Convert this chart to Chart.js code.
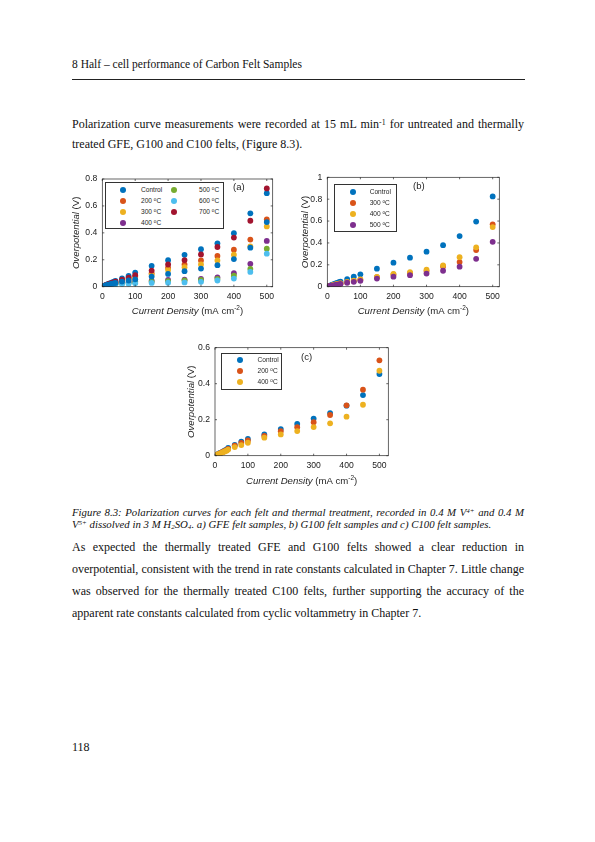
<!DOCTYPE html>
<html>
<head>
<meta charset="utf-8">
<script src="https://cdn.jsdelivr.net/npm/chart.js@4.4.1/dist/chart.umd.min.js"></script>
<style>
  html, body { margin: 0; padding: 0; background: #fff; }
  #page { position: relative; width: 595px; height: 842px; overflow: hidden; font-family: "Liberation Serif", "Times New Roman", serif; color: #111; }
  .abs { position: absolute; }
  .line { position: absolute; left: 72px; width: 452px; white-space: nowrap; }
  .just { text-align: justify; text-align-last: justify; }
  .body { font-size: 12px; }
  .cap { font-size: 10.8px; font-style: italic; line-height: 12px; }
  sup { font-size: 0.65em; line-height: 0; vertical-align: 0.45em; }
  sub { font-size: 0.65em; line-height: 0; vertical-align: -0.2em; }
  .legend { position: absolute; background: #fff; border: 0.8px solid #333; box-sizing: border-box; font-family: "Liberation Sans", Arial, sans-serif; font-size: 6.6px; color: #262626; }
  .legend .dot { position: absolute; width: 6px; height: 6px; border-radius: 50%; }
  .legend .txt { position: absolute; line-height: 8px; white-space: nowrap; }
  .legend sup { font-size: 0.7em; vertical-align: 0.5em; }
  .plabel { position: absolute; font-family: "Liberation Sans", Arial, sans-serif; font-size: 9.5px; color: #262626; line-height: 10px; }
</style>
</head>
<body>
<div id="page">
  <div class="abs" style="left:72px; top:57px; font-size:11.5px; line-height:14px;">8 Half – cell performance of Carbon Felt Samples</div>
  <div class="abs" style="left:72px; top:79px; width:453px; border-top:0.8px solid #222;"></div>

  <div class="line body just" style="top:114px; line-height:20px;">Polarization curve measurements were recorded at 15 mL min<sup>-1</sup> for untreated and thermally</div>
  <div class="line body" style="top:134px; line-height:20px;">treated GFE, G100 and C100 felts, (Figure 8.3).</div>

  <div class="abs" style="left:58px; top:168px;"><canvas id="chartA" width="236" height="152"></canvas></div>
  <div class="abs" style="left:295px; top:166px;"><canvas id="chartB" width="230" height="154"></canvas></div>
  <div class="abs" style="left:170px; top:336px;"><canvas id="chartC" width="235" height="152"></canvas></div>

  <div id="legA" class="legend" style="left:105px; top:182px; width:119px; height:47px;"></div>
  <div id="legB" class="legend" style="left:334px; top:184px; width:63px; height:48px;"></div>
  <div id="legC" class="legend" style="left:221px; top:353px; width:61px; height:37px;"></div>
  <div class="plabel" style="left:233px; top:181.5px;">(a)</div>
  <div class="plabel" style="left:413px; top:180.5px;">(b)</div>
  <div class="plabel" style="left:301px; top:351.5px;">(c)</div>

  <div class="line cap just" style="top:506px;">Figure 8.3: Polarization curves for each felt and thermal treatment, recorded in 0.4 M V<sup>4+</sup> and 0.4 M</div>
  <div class="line cap" style="top:518px;">V<sup>5+</sup> dissolved in 3 M H<sub>2</sub>SO<sub>4</sub>. a) GFE felt samples, b) G100 felt samples and c) C100 felt samples.</div>

  <div class="line body just" style="top:536px; line-height:22px;">As expected the thermally treated GFE and G100 felts showed a clear reduction in</div>
  <div class="line body just" style="top:558px; line-height:22px;">overpotential, consistent with the trend in rate constants calculated in Chapter 7. Little change</div>
  <div class="line body just" style="top:580px; line-height:22px;">was observed for the thermally treated C100 felts, further supporting the accuracy of the</div>
  <div class="line body" style="top:602px; line-height:22px;">apparent rate constants calculated from cyclic voltammetry in Chapter 7.</div>

  <div class="abs body" style="left:72px; top:740px; line-height:14px;">118</div>
</div>

<script>
// current density (mA cm-2), shared by all three plots
const currentDensity = [2, 5, 10, 15, 20, 25, 30, 35, 40, 60, 80, 100, 150, 200, 250, 300, 350, 400, 450, 500];

// (a) GFE felts - overpotential (V)
const gfeLabels = ['Control', '200 °C', '300 °C', '400 °C', '500 °C', '600 °C', '700 °C', ''];
const gfeControl = [0.003, 0.006, 0.012, 0.017, 0.022, 0.027, 0.032, 0.037, 0.043, 0.062, 0.080, 0.105, 0.155, 0.197, 0.237, 0.278, 0.322, 0.397, 0.545, 0.695];
const gfe200 = [0.002, 0.005, 0.009, 0.013, 0.017, 0.021, 0.025, 0.029, 0.033, 0.048, 0.060, 0.075, 0.100, 0.140, 0.165, 0.195, 0.228, 0.275, 0.350, 0.500];
const gfe300 = [0.002, 0.004, 0.008, 0.012, 0.015, 0.019, 0.022, 0.026, 0.030, 0.043, 0.054, 0.066, 0.090, 0.124, 0.145, 0.165, 0.195, 0.238, 0.300, 0.448];
const gfe400 = [0.002, 0.004, 0.007, 0.010, 0.013, 0.015, 0.018, 0.020, 0.023, 0.028, 0.033, 0.038, 0.045, 0.050, 0.053, 0.058, 0.070, 0.100, 0.170, 0.340];
const gfe500 = [0.001, 0.003, 0.006, 0.009, 0.011, 0.013, 0.015, 0.017, 0.020, 0.025, 0.029, 0.032, 0.037, 0.042, 0.046, 0.050, 0.058, 0.082, 0.132, 0.282];
const gfe600 = [0.001, 0.003, 0.005, 0.007, 0.009, 0.011, 0.013, 0.014, 0.016, 0.020, 0.022, 0.025, 0.028, 0.030, 0.032, 0.036, 0.046, 0.060, 0.110, 0.245];
const gfe700 = [0.003, 0.006, 0.011, 0.016, 0.020, 0.024, 0.028, 0.032, 0.037, 0.053, 0.068, 0.085, 0.120, 0.165, 0.198, 0.240, 0.295, 0.365, 0.490, 0.730];
// 8th series in the plot (blue again, not in the legend)
const gfeExtra = [0.002, 0.005, 0.009, 0.013, 0.016, 0.019, 0.022, 0.025, 0.028, 0.038, 0.046, 0.055, 0.075, 0.095, 0.115, 0.135, 0.160, 0.205, 0.290, 0.480];

// (b) G100 felts
const g100Labels = ['Control', '300 °C', '400 °C', '500 °C'];
const g100Control = [0.003, 0.007, 0.013, 0.019, 0.024, 0.030, 0.035, 0.041, 0.047, 0.070, 0.092, 0.113, 0.165, 0.220, 0.265, 0.320, 0.380, 0.463, 0.595, 0.825];
const g100300 = [0.002, 0.004, 0.008, 0.012, 0.016, 0.019, 0.023, 0.026, 0.030, 0.042, 0.053, 0.064, 0.088, 0.112, 0.125, 0.143, 0.185, 0.225, 0.335, 0.570];
const g100400 = [0.002, 0.004, 0.008, 0.012, 0.016, 0.020, 0.023, 0.027, 0.031, 0.044, 0.055, 0.066, 0.090, 0.117, 0.132, 0.155, 0.195, 0.270, 0.360, 0.545];
const g100500 = [0.002, 0.004, 0.007, 0.010, 0.013, 0.016, 0.019, 0.022, 0.025, 0.036, 0.045, 0.054, 0.074, 0.092, 0.105, 0.120, 0.146, 0.183, 0.255, 0.410];

// (c) C100 felts
const c100Labels = ['Control', '200 °C', '400 °C'];
const c100Control = [0.002, 0.005, 0.010, 0.015, 0.019, 0.024, 0.029, 0.034, 0.043, 0.060, 0.078, 0.093, 0.118, 0.148, 0.176, 0.206, 0.237, 0.278, 0.337, 0.454];
const c100200 = [0.002, 0.005, 0.009, 0.013, 0.018, 0.022, 0.027, 0.031, 0.038, 0.056, 0.071, 0.085, 0.110, 0.136, 0.158, 0.186, 0.226, 0.280, 0.367, 0.530];
const c100400 = [0.002, 0.004, 0.008, 0.012, 0.016, 0.020, 0.024, 0.028, 0.034, 0.048, 0.059, 0.072, 0.100, 0.118, 0.137, 0.159, 0.180, 0.217, 0.283, 0.472];

// matlab default colour order
const colorsA = ['#0072BD', '#D95319', '#EDB120', '#7E2F8E', '#77AC30', '#4DBEEE', '#A2142F', '#0072BD'];
const colorsB = ['#0072BD', '#D95319', '#EDB120', '#7E2F8E'];
const colorsC = ['#0072BD', '#D95319', '#EDB120'];

const INK = '#262626';
const SANS = '"Liberation Sans", Arial, sans-serif';

// box round the plot, inward ticks and the two axis titles
const framePlugin = {
    id: 'frame',
    afterDraw(chart, args, opts) {
        const { ctx, chartArea: a, scales: { x, y } } = chart;
        ctx.save();
        ctx.strokeStyle = INK;
        ctx.lineWidth = 0.7;
        ctx.strokeRect(a.left, a.top, a.right - a.left, a.bottom - a.top);
        ctx.beginPath();
        x.ticks.forEach(t => {
            const px = x.getPixelForValue(t.value);
            ctx.moveTo(px, a.bottom); ctx.lineTo(px, a.bottom - 2);
            ctx.moveTo(px, a.top); ctx.lineTo(px, a.top + 2);
        });
        y.ticks.forEach(t => {
            const py = y.getPixelForValue(t.value);
            ctx.moveTo(a.left, py); ctx.lineTo(a.left + 2, py);
            ctx.moveTo(a.right, py); ctx.lineTo(a.right - 2, py);
        });
        ctx.stroke();

        ctx.fillStyle = INK;
        ctx.textBaseline = 'alphabetic';
        // x title
        const xParts = [
            { t: 'Current Density', f: 'italic 9.6px ' + SANS, dy: 0 },
            { t: ' (mA cm', f: '9.6px ' + SANS, dy: 0 },
            { t: '-2', f: '6.5px ' + SANS, dy: -4 },
            { t: ')', f: '9.6px ' + SANS, dy: 0 }
        ];
        drawParts(ctx, xParts, (a.left + a.right) / 2, a.bottom + opts.xGap);
        // y title
        ctx.translate(a.left - opts.yGap, (a.top + a.bottom) / 2);
        ctx.rotate(-Math.PI / 2);
        const yParts = [
            { t: 'Overpotential', f: 'italic 9.6px ' + SANS, dy: 0 },
            { t: ' (V)', f: '9.6px ' + SANS, dy: 0 }
        ];
        drawParts(ctx, yParts, 0, 3.5);
        ctx.restore();
    }
};

function drawParts(ctx, parts, cx, baseY) {
    let total = 0;
    parts.forEach(p => { ctx.font = p.f; p.w = ctx.measureText(p.t).width; total += p.w; });
    let px = cx - total / 2;
    ctx.textAlign = 'left';
    parts.forEach(p => { ctx.font = p.f; ctx.fillText(p.t, px, baseY + p.dy); px += p.w; });
}

function makeChart(id, seriesList, labels, colors, cfg) {
    const datasets = seriesList.map((vals, i) => ({
        label: labels[i],
        data: currentDensity.map((cd, k) => ({ x: cd, y: vals[k] })),
        backgroundColor: colors[i],
        borderColor: colors[i],
        pointRadius: 2.9,
        pointBorderWidth: 0,
        order: seriesList.length - i
    }));
    return new Chart(document.getElementById(id), {
        type: 'scatter',
        data: { datasets },
        options: {
            responsive: false,
            animation: false,
            layout: { padding: { left: 0, top: cfg.padTop, right: cfg.padRight, bottom: 0 } },
            plugins: {
                legend: { display: false },
                tooltip: { enabled: false },
                frame: { xGap: cfg.xGap, yGap: cfg.yGap }
            },
            scales: {
                x: {
                    type: 'linear', min: 0, max: cfg.xMax,
                    grid: { display: false, drawTicks: false },
                    border: { display: false },
                    ticks: { stepSize: 100, includeBounds: false, padding: 5, color: '#1a1a1a', font: { family: SANS, size: 8.6 } },
                    afterFit: s => { s.height = cfg.xAxisH; }
                },
                y: {
                    min: 0, max: cfg.yMax,
                    grid: { display: false, drawTicks: false },
                    border: { display: false },
                    ticks: { stepSize: 0.2, includeBounds: false, padding: 5, color: '#1a1a1a', font: { family: SANS, size: 8.6 },
                        callback: v => String(+v.toFixed(1)) },
                    afterFit: s => { s.width = cfg.yAxisW; }
                }
            }
        },
        plugins: [framePlugin]
    });
}

// legend boxes inside the plots
function buildLegend(id, labels, colors, perCol, markX, textX, y0, dy) {
    const box = document.getElementById(id);
    labels.forEach((lab, i) => {
        if (!lab) return;
        const col = Math.floor(i / perCol), row = i % perCol;
        const cy = y0 + row * dy;
        const dot = document.createElement('div');
        dot.className = 'dot';
        dot.style.background = colors[i];
        dot.style.left = (markX[col] - 3) + 'px';
        dot.style.top = (cy - 3) + 'px';
        const txt = document.createElement('div');
        txt.className = 'txt';
        txt.style.left = textX[col] + 'px';
        txt.style.top = (cy - 4) + 'px';
        txt.innerHTML = lab.replace('°', '<sup>o</sup>');
        box.appendChild(dot);
        box.appendChild(txt);
    });
}

makeChart('chartA', [gfeControl, gfe200, gfe300, gfe400, gfe500, gfe600, gfe700, gfeExtra], gfeLabels, colorsA,
    { xMax: 518, yMax: 0.8, padTop: 11, padRight: 21.3, yAxisW: 44.3, xAxisH: 33.3, xGap: 27.5, yGap: 27.3 });
makeChart('chartB', [g100Control, g100300, g100400, g100500], g100Labels, colorsB,
    { xMax: 520, yMax: 1, padTop: 11.3, padRight: 25.7, yAxisW: 32.3, xAxisH: 33.3, xGap: 27.5, yGap: 23.3 });
makeChart('chartC', [c100Control, c100200, c100400], c100Labels, colorsC,
    { xMax: 527, yMax: 0.6, padTop: 11.7, padRight: 16.7, yAxisW: 45, xAxisH: 32.3, xGap: 28, yGap: 25 });

buildLegend('legA', gfeLabels, colorsA, 4, [17, 67.7], [35, 93], 7, 11.1);
buildLegend('legB', g100Labels, colorsB, 4, [18, 0], [34.7, 0], 6.7, 11.1);
buildLegend('legC', c100Labels, colorsC, 3, [18, 0], [35.5, 0], 6.3, 11);
</script>
</body>
</html>
